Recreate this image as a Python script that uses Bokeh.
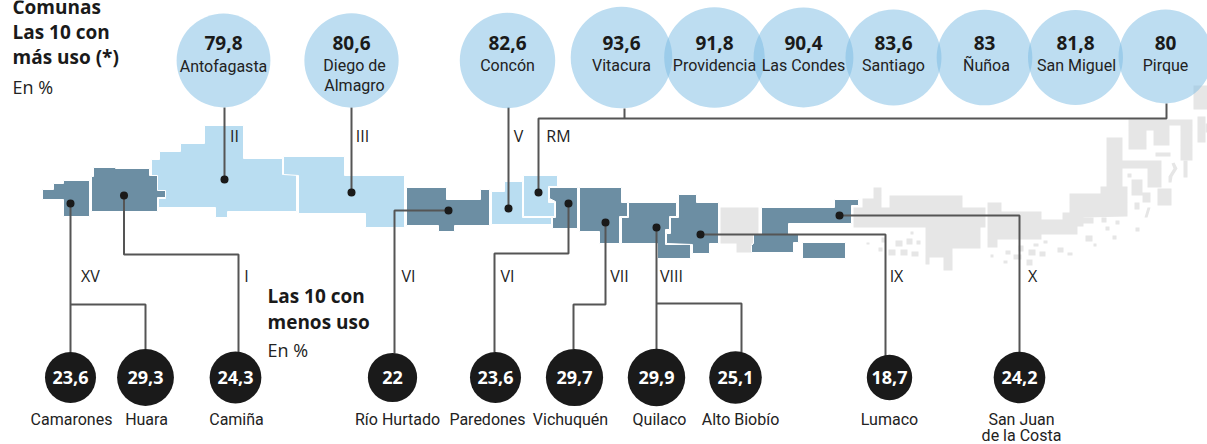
from bokeh.plotting import figure
from bokeh.core.properties import value
from bokeh.embed import file_html
from bokeh.resources import INLINE
from math import sqrt

# ---------- data ----------
top_names = ["Antofagasta", "Diego de\nAlmagro", "Concón", "Vitacura", "Providencia",
             "Las Condes", "Santiago", "Ñuñoa", "San Miguel", "Pirque"]
top_values = [79.8, 80.6, 82.6, 93.6, 91.8, 90.4, 83.6, 83, 81.8, 80]
low_names = ["Camarones", "Huara", "Camiña", "Río Hurtado", "Paredones", "Vichuquén",
             "Quilaco", "Alto Biobío", "Lumaco", "San Juan\nde la Costa"]
low_values = [23.6, 29.3, 24.3, 22, 23.6, 29.7, 29.9, 25.1, 18.7, 24.2]
region_labels = ["II", "III", "V", "RM", "XV", "I", "VI", "VI", "VII", "VIII", "IX", "X"]

# ---------- layout (page pixels) ----------
top_x = [223, 351, 507, 621, 714, 803, 893, 984, 1075, 1165]
top_y = [60, 60, 60, 57, 57, 57, 57, 57, 57, 56]
top_name_x = [223, 354, 507, 621, 714, 803, 893, 986, 1076, 1165]
top_value_y = [42] * 10
top_name_y = [66, 65, 65, 65, 65, 65, 65, 65, 65, 65]
low_x = [70, 145, 235, 392, 495, 574, 656, 735, 889, 1019]
low_y = [377] * 10
low_name_x = [71, 146, 236, 397, 487, 570, 659, 740, 889, 1021]
label_x = [234, 362, 518, 558, 90, 246, 408, 507, 619, 671, 896, 1032]
label_y = [135] * 4 + [275] * 8
K = 5.25  # bubble radius = K * sqrt(value)

dark_regions = [
    [(42,189),(53,189),(53,183),(63,183),(63,180),(89,180),(89,216),(63,216),(63,199),(42,199)],
    [(93,167),(115,167),(115,168),(149,168),(149,175),(157,175),(157,190),(165,190),(165,197),(157,197),(157,211),(91,211),(91,176),(93,176)],
    [(406,187),(446,187),(446,199),(480,199),(480,189),(489,189),(489,225),(454,225),(454,231),(438,231),(438,225),(406,225)],
    [(549,187),(577,187),(577,228),(552,228),(552,217),(555,217),(555,201),(549,198)],
    [(579,187),(621,187),(621,202),(627,202),(627,216),(619,216),(619,243),(599,243),(599,231),(579,231)],
    [(628,202),(676,202),(676,216),(669,216),(669,229),(665,229),(665,244),(690,244),(690,258),(657,258),(657,243),(621,243),(621,217),(628,217)],
    [(678,194),(696,194),(696,202),(718,202),(718,243),(709,243),(709,253),(692,253),(692,244),(666,243),(666,233),(670,233),(670,217),(678,217)],
    [(761,207),(834,207),(834,199),(858,199),(858,205),(851,205),(851,223),(788,223),(788,234),(798,234),(798,242),(793,242),(793,252),(751,252),(751,245),(753,243),(753,234),(761,234)],
    [(802,242),(845,242),(845,258),(802,258)],
]
light_regions = [
    [(204,125),(243,125),(243,158),(282,158),(282,174),(296,174),(296,211),(227,211),(227,217),(215,217),(215,207),(158,207),(158,198),(165,198),(165,190),(157,190),(157,175),(151,175),(151,159),(159,159),(159,151),(180,151),(180,143),(204,143)],
    [(283,156),(344,156),(344,175),(404,175),(404,227),(365,227),(365,213),(298,213),(298,175),(283,174)],
    [(491,191),(504,191),(504,181),(522,181),(522,217),(551,217),(551,224),(491,224)],
    [(523,175),(557,175),(557,186),(548,186),(548,202),(554,202),(554,216),(523,216)],
]
grey_regions = [
    [(720,207),(758,207),(758,243),(751,243),(751,252),(736,252),(736,243),(720,243)],
    [(853,207),(862,207),(862,198),(873,198),(873,187),(881,187),(881,207),(889,207),(889,195),(962,195),(962,207),(985,207),(985,227),(980,227),(980,248),(952,248),(952,270),(943,270),(943,257),(929,257),(929,264),(925,264),(925,227),(853,227)],
    [(987,202),(1001,202),(1001,211),(1041,211),(1041,219),(1062,219),(1062,212),(1069,212),(1069,193),(1100,193),(1100,186),(1106,186),(1106,137),(1122,137),(1122,160),(1161,160),(1161,187),(1147,187),(1147,168),(1122,168),(1122,186),(1127,186),(1127,216),(1083,217),(1083,226),(1077,226),(1077,234),(1041,234),(1041,239),(997,239),(997,247),(987,247)],
    [(1128,119),(1192,119),(1192,160),(1180,160),(1180,125),(1169,125),(1169,145),(1153,145),(1153,130),(1146,130),(1146,149),(1128,149)],
    [(1131,179),(1142,179),(1142,192),(1150,192),(1150,202),(1142,202),(1142,195),(1131,195)],
    [(1168,176),(1173,168),(1171,163),(1174,162),(1177,168),(1172,176),(1171,182),(1168,182)],
    [(1144,217),(1147,207),(1150,207),(1147,217)],
]
# left, right, top, bottom of the small grey blocks
grey_l = [1157,1183,1193,1197,1205,1155,1134,1127,1081,895,906,916,888,900,911,910,881,878,866,1018,1028,1039,1013,1005,990,1003,1026,1033,1043,1057,1067,1085,1093,1112,1115,1105,1101,1135]
grey_r = [1171,1187,1207,1205,1207,1170,1139,1131,1093,902,912,920,895,907,918,913,885,882,869,1023,1035,1045,1021,1010,993,1007,1032,1038,1047,1063,1072,1092,1096,1116,1119,1109,1106,1139]
grey_t = [188,160,85,116,123,152,202,173,217,240,238,240,249,249,251,231,237,247,242,245,249,251,254,250,254,260,259,243,240,247,252,235,243,235,220,226,217,227]
grey_b = [205,177,109,142,132,156,209,177,223,246,244,244,255,255,256,234,242,251,244,251,255,256,259,254,257,263,265,246,243,252,255,241,246,239,224,230,222,231]

# leader lines, each a list of page points
leaders = [
    [(70,203),(70,352)], [(70,304),(145,304),(145,349)],
    [(123.5,195),(123.5,254),(238,254),(238,352)],
    [(448,210),(394,210),(394,353)],
    [(568,203),(568,253),(494,253),(494,352)],
    [(605,222),(605,304),(573,304),(573,349)],
    [(656,227),(656,349)], [(656,303),(741,303),(741,352)],
    [(700,234),(885,234),(885,357)],
    [(839,215),(1019,215),(1019,352)],
    [(224,107),(224,179)], [(351,107),(351,192)], [(508,107),(508,208)],
    [(538,192),(538,118),(1166,118),(1166,103)], [(624,108),(624,118)],
]
dots_x = [70, 123.5, 224, 351, 448, 508, 538, 568, 605, 656, 700, 839]
dots_y = [203, 195, 179, 192, 210, 208, 192, 203, 222, 227, 234, 215]

# ---------- figure: one data unit is one page pixel ----------
p = figure(width=1207, height=444, x_range=(0, 1207), y_range=(444, 0),
           output_backend="svg", toolbar_location=None, min_border=0,
           outline_line_color=None)
p.axis.visible = False
p.grid.visible = False
p.background_fill_color = "white"
p.border_fill_color = "white"


def polys(regions, fill, line="white"):
    xs = [[pt[0] for pt in r] for r in regions]
    ys = [[pt[1] for pt in r] for r in regions]
    p.patches(xs, ys, fill_color=fill, line_color=line, line_width=1)


p.quad(left=grey_l, right=grey_r, top=grey_t, bottom=grey_b,
       fill_color="#E6E6E6", line_color=None)
polys(grey_regions, "#E6E6E6", None)
polys(light_regions, "#B9DDF1")
polys(dark_regions, "#6C8EA3")

p.multi_line([[pt[0] for pt in l] for l in leaders], [[pt[1] for pt in l] for l in leaders],
             line_color="#555555", line_width=2)
p.scatter(dots_x, dots_y, size=8, color="#1A1A1A", line_color=None)

p.circle(top_x, top_y, radius=[K * sqrt(v) for v in top_values], radius_dimension="x",
         fill_color="#7BBBE3", fill_alpha=0.5, line_color=None)
p.circle(low_x, low_y, radius=[K * sqrt(v) for v in low_values], radius_dimension="x",
         fill_color="#1A1A1A", line_color=None)


def fmt(v):
    return f"{v:g}".replace(".", ",")


FONT = value("Open Sans")
NAME_FONT = value("Roboto")


def text(x, y, t, size, color="#222222", style="normal", align="center", font=FONT):
    p.text(x, y, text=t, text_font=font, text_font_size=f"{size}px", text_color=color,
           text_font_style=style, text_align=align, text_baseline="middle")


# bubble values
text(top_x, top_value_y, [fmt(v) for v in top_values], 19, "#1A1A1A", "bold")
text(low_x, low_y, [fmt(v) for v in low_values], 18, "white", "bold")

# bubble names
nx, ny, nt = [], [], []
for x, y, n in zip(top_name_x, top_name_y, top_names):
    for i, l in enumerate(n.split("\n")):
        nx.append(x)
        ny.append(y + i * 20)
        nt.append(l)
for x, n in zip(low_name_x, low_names):
    for i, l in enumerate(n.split("\n")):
        nx.append(x)
        ny.append(419 + i * 16)
        nt.append(l)
text(nx, ny, nt, 16, font=NAME_FONT)

# region numerals
text(label_x, label_y, region_labels, 16, "#222222", "normal")

# headings
text([12], [6], ["Comunas"], 19, "#1A1A1A", "bold", "left")
text([12], [31], ["Las 10 con"], 19, "#1A1A1A", "bold", "left")
text([12], [56], ["más uso (*)"], 19, "#1A1A1A", "bold", "left")
text([12], [86], ["En %"], 18, "#222222", "normal", "left")
text([267], [295], ["Las 10 con"], 19, "#1A1A1A", "bold", "left")
text([267], [321], ["menos uso"], 19, "#1A1A1A", "bold", "left")
text([267], [349], ["En %"], 18, "#222222", "normal", "left")

open("out.html", "w").write(file_html(p, INLINE))
